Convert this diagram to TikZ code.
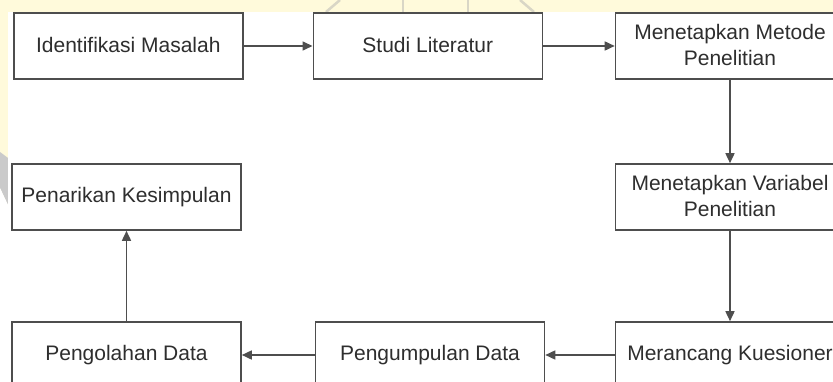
\documentclass[tikz,border=0pt]{standalone}
\usepackage{fontspec}
\setmainfont{Liberation Sans}
\usetikzlibrary{arrows.meta}
\definecolor{pagecream}{HTML}{FFFADB}
\definecolor{markgray}{HTML}{D9D6C6}
\definecolor{markdark}{HTML}{CACACA}
\definecolor{edgegray}{HTML}{4E4E4E}
\definecolor{inkgray}{HTML}{2E2E2E}
% invisible strut giving every text line the same height and depth
\newcommand\linestrut{\rule[-2.5pt]{0pt}{17.5pt}}
\tikzset{
  stepbox/.style={draw=edgegray, line width=1.6pt, fill=white, rectangle,
    minimum width=229pt, minimum height=66pt, inner sep=0pt, align=center,
    text=inkgray, font=\fontsize{21}{25.5}\selectfont,
    execute at begin node=\linestrut},
  flow/.style={draw=edgegray, line width=1.6pt,
    -{Triangle[length=10pt,width=9pt]}},
  markline/.style={draw=markgray, line width=2.5pt}
}
\begin{document}
\begin{tikzpicture}[x=1pt,y=-1pt]
\useasboundingbox (0,0) rectangle (833,382);
\clip (0,0) rectangle (833,382);
% page with faint watermark behind the white sheet
\fill[pagecream] (0,0) rectangle (833,382);
\fill[markdark] (0,152) -- (8,158) -- (8,205) -- (0,188) -- cycle;
\fill[white] (0,188) -- (8,205) -- (8,382) -- (0,382) -- cycle;
\draw[markline] (326,12) -- (340,0);
\draw[markline] (403,0) -- (403,12);
\draw[markline] (468,0) -- (468,12);
\draw[markline] (520,0) -- (534,12);
\fill[white] (8,12) rectangle (833,382);
% process steps
\node[stepbox] (idm) at (128.3,46) {Identifikasi Masalah};
\node[stepbox] (stl) at (427.8,46) {Studi Literatur};
\node[stepbox] (mmp) at (730,46) {Menetapkan Metode\\\linestrut Penelitian};
\node[stepbox] (mvp) at (730,197) {Menetapkan Variabel\\\linestrut Penelitian};
\node[stepbox] (mkq) at (730,355) {Merancang Kuesioner};
\node[stepbox] (pgd) at (430,355) {Pengumpulan Data};
\node[stepbox] (pod) at (126.5,355) {Pengolahan Data};
\node[stepbox] (pks) at (126.5,197) {Penarikan Kesimpulan};
% flow between the steps
\draw[flow] (idm) -- (stl);
\draw[flow] (stl) -- (mmp);
\draw[flow] (mmp) -- (mvp);
\draw[flow] (mvp) -- (mkq);
\draw[flow] (mkq) -- (pgd);
\draw[flow] (pgd) -- (pod);
\draw[flow] (pod) -- (pks);
\end{tikzpicture}
\end{document}
